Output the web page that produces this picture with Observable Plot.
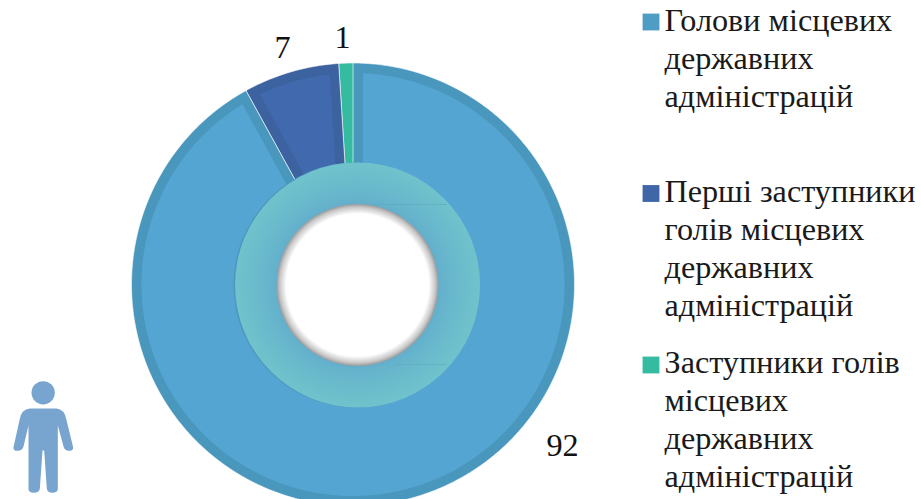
<!DOCTYPE html>
<html><head><meta charset="utf-8">
<script src="https://cdn.jsdelivr.net/npm/d3@7"></script>
<script src="https://cdn.jsdelivr.net/npm/@observablehq/plot@0.6"></script>
<style>html,body{margin:0;padding:0;background:#fff}svg{display:block}</style>
</head><body><div id="chart"></div>
<script>
const categories = [
  "Голови місцевих\nдержавних\nадміністрацій",
  "Перші заступники\nголів місцевих\nдержавних\nадміністрацій",
  "Заступники голів\nмісцевих\nдержавних\nадміністрацій"
];
const values = [92, 7, 1];
const fillColors = ["#55A5D3", "#4169AE", "#35BBA0"];
const borderColors = ["#4A97BE", "#3C62A0", "#35BBA0"];
const swatchColors = ["#4F9DC4", "#3F66A6", "#35BBA0"];
const legendY = [21.5, 193, 364.5];
const legendTextY = [4, 175, 346];
const labelX = [562, 282, 342];
const labelY = [445, 47, 37];

const W = 921, H = 499;
const cx = 352.5, cy = 284, R = 221.5, innerR = 115;
const border = 10;

const pie = d3.pie().sort(null).startAngle(0).endAngle(2 * Math.PI)(values);

function slice(a0, a1, inset, color, key) {
  const outer = R - inset, pts = [];
  const oa = inset ? Math.asin(inset / outer) : 0, ia = inset ? Math.asin(inset / innerR) : 0;
  const n = Math.max(2, Math.ceil((a1 - a0) / 0.01));
  for (let i = 0; i <= n; i++) {
    const a = a0 + oa + (a1 - a0 - 2 * oa) * i / n;
    pts.push({a, r: outer});
  }
  for (let i = n; i >= 0; i--) {
    const a = a0 + ia + (a1 - a0 - 2 * ia) * i / n;
    pts.push({a, r: innerR});
  }
  return pts.map(p => ({x: cx + p.r * Math.sin(p.a), y: cy - p.r * Math.cos(p.a), color, key}));
}

const borderPts = pie.flatMap((d, i) => slice(d.startAngle, d.endAngle, 0, borderColors[i], i));
const fillPts = pie.flatMap((d, i) => d.value > 1 ? slice(d.startAngle, d.endAngle, border, fillColors[i], i) : []);

const ringX = 357, ringY = 284.5;
const defs = () => {
  const s = d3.create("svg:defs");
  const g1 = s.append("radialGradient").attr("id", "ringG");
  [[0.64, "#63AECC"], [0.8, "#69B9CC"], [1, "#70C3CB"]].forEach(([o, c]) =>
    g1.append("stop").attr("offset", o).attr("stop-color", c));
  const g2 = s.append("radialGradient").attr("id", "holeG");
  [[0, "#fff"], [0.88, "#fff"], [0.96, "#C8C8C8"], [1, "#9A9A9A"]].forEach(([o, c]) =>
    g2.append("stop").attr("offset", o).attr("stop-color", c));
  return s.node();
};

const iconSvg = `<svg xmlns="http://www.w3.org/2000/svg" viewBox="0 0 270 387"><g fill="#78A5CF"><circle cx="128" cy="67" r="35"/><path d="M88 114 H168 Q192 117 197 145 L218 230 Q219 241 205 241 Q193 241 189 228 L172 165 V355 Q172 367 155 367 Q141 367 139 355 L131 240 H126 L118 355 Q116 367 100 367 Q84 367 84 355 V165 L69 228 Q65 241 52 241 Q37 241 39 230 L58 145 Q63 117 88 114 Z"/></g></svg>`;

const font = "Liberation Serif";
const fontSize = 32.2;
const idx = d3.range(values.length);

const chart = Plot.plot({
  width: W, height: H, margin: 0,
  style: {background: "transparent", color: "#1a1a1a", fontFamily: font},
  x: {domain: [0, W], range: [0, W], axis: null},
  y: {domain: [0, H], range: [0, H], axis: null},
  color: {type: "identity"},
  marks: [
    defs,
    Plot.line(borderPts, {x: "x", y: "y", z: "key", fill: "color", stroke: "#fff", strokeWidth: 1, strokeOpacity: 0.6, curve: "linear-closed"}),
    Plot.line(fillPts, {x: "x", y: "y", z: "key", fill: "color", stroke: "none", curve: "linear-closed"}),
    Plot.dot([0], {x: () => ringX - 1.5, y: () => ringY, r: 122.5, fill: "#4A97BE"}),
    Plot.dot([0], {x: () => ringX, y: () => ringY, r: 122.5, fill: "url(#ringG)"}),
    Plot.ruleY([204], {x1: 372, x2: 447, stroke: "#5FA8BF", strokeWidth: 1, strokeOpacity: 0.7}),
    Plot.ruleY([364], {x1: 395, x2: 446, stroke: "#5FA8BF", strokeWidth: 1, strokeOpacity: 0.6}),
    Plot.dot([0], {x: () => ringX, y: () => ringY, r: 81, fill: "url(#holeG)"}),
    Plot.image([0], {x: () => 45, y: () => 434.5, width: 90, height: 129, src: "data:image/svg+xml," + encodeURIComponent(iconSvg)}),
    Plot.text(idx, {x: i => labelX[i], y: i => labelY[i], text: i => String(values[i]), fontSize, fontFamily: font, fill: "#111", textAnchor: "middle"}),
    Plot.dot(idx, {x: () => 650.5, y: i => legendY[i], symbol: "square", r: 9.5, fill: i => swatchColors[i]}),
    Plot.text(idx, {x: () => 664, y: i => legendTextY[i], text: i => categories[i], fontSize, fontFamily: font, fill: "#1a1a1a", textAnchor: "start", lineAnchor: "top", lineHeight: 1.18})
  ]
});
document.getElementById("chart").appendChild(chart);
</script></body></html>
